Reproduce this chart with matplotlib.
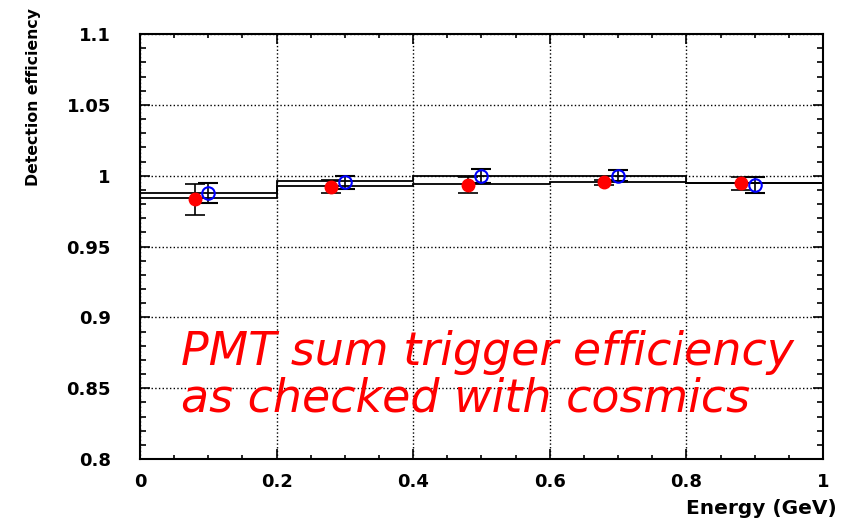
import numpy as np
import matplotlib.pyplot as plt
from matplotlib.ticker import MultipleLocator

# histogram bins (two step curves)
edges = [0.0, 0.2, 0.4, 0.6, 0.8, 1.0]
hist_hi = [0.988, 0.996, 1.000, 1.000, 0.995]
hist_lo = [0.984, 0.9927, 0.994, 0.9953, 0.9945]

# red filled points
x_red = [0.08, 0.28, 0.48, 0.68, 0.88]
y_red = [0.9833, 0.9923, 0.9934, 0.9953, 0.9946]
e_red = [0.011, 0.0045, 0.0055, 0.002, 0.0045]

# blue open points
x_blue = [0.1, 0.3, 0.5, 0.7, 0.9]
y_blue = [0.988, 0.9953, 1.000, 1.000, 0.9936]
e_blue = [0.007, 0.0045, 0.005, 0.004, 0.0056]

note_lines = ['PMT sum trigger efficiency', 'as checked with cosmics']

plt.rcParams['font.family'] = ['DejaVu Sans']
plt.rcParams['font.weight'] = 'bold'

fig = plt.figure(figsize=(8.42, 5.24), dpi=100)
ax = fig.add_axes([0.1663, 0.124, 0.8111, 0.8111])

ax.stairs(hist_hi, edges, color='black', lw=1.3)
ax.stairs(hist_lo, edges, color='black', lw=1.3)

ax.errorbar(x_red, y_red, yerr=e_red, fmt='o', color='red', ms=9,
            ecolor='black', elinewidth=1.2, capsize=7, capthick=1.2, zorder=3)
ax.errorbar(x_blue, y_blue, yerr=e_blue, fmt='o', mfc='none', mec='blue', mew=1.5, ms=9,
            ecolor='black', elinewidth=1.2, capsize=7, capthick=1.2, zorder=3)

ax.set_xlim(0, 1)
ax.set_ylim(0.8, 1.1)
ax.xaxis.set_major_locator(MultipleLocator(0.2))
ax.xaxis.set_minor_locator(MultipleLocator(0.05))
ax.yaxis.set_major_locator(MultipleLocator(0.05))
ax.yaxis.set_minor_locator(MultipleLocator(0.01))
ax.xaxis.set_major_formatter(plt.FuncFormatter(lambda v, p: ('%g' % round(v, 2))))
ax.yaxis.set_major_formatter(plt.FuncFormatter(lambda v, p: ('%g' % round(v, 2))))
ax.tick_params(which='both', direction='in', top=True, right=True, labelsize=13)
ax.tick_params(which='major', length=7, width=1.2)
ax.tick_params(axis='y', which='minor', length=4.5, width=1.2)
ax.tick_params(axis='x', which='minor', length=3, width=1.2)
ax.tick_params(axis='y', pad=21)
ax.tick_params(axis='x', pad=10)
ax.grid(True, which='major', linestyle=':', color='black', lw=1.0)
for s in ax.spines.values():
    s.set_linewidth(1.5)

fig.text(0.04, 0.985, 'Detection efficiency', rotation=90, ha='center', va='top',
         fontsize=11.3, fontweight='bold')
fig.text(0.994, 0.012, 'Energy (GeV)', ha='right', va='bottom', fontsize=14.5, fontweight='bold')

ax.text(0.06, 0.8664, note_lines[0], color='red', fontsize=33, style='italic',
        fontweight='normal', va='baseline', ha='left')
ax.text(0.06, 0.8332, note_lines[1], color='red', fontsize=33, style='italic',
        fontweight='normal', va='baseline', ha='left')

fig.savefig('out.png', dpi=100)
